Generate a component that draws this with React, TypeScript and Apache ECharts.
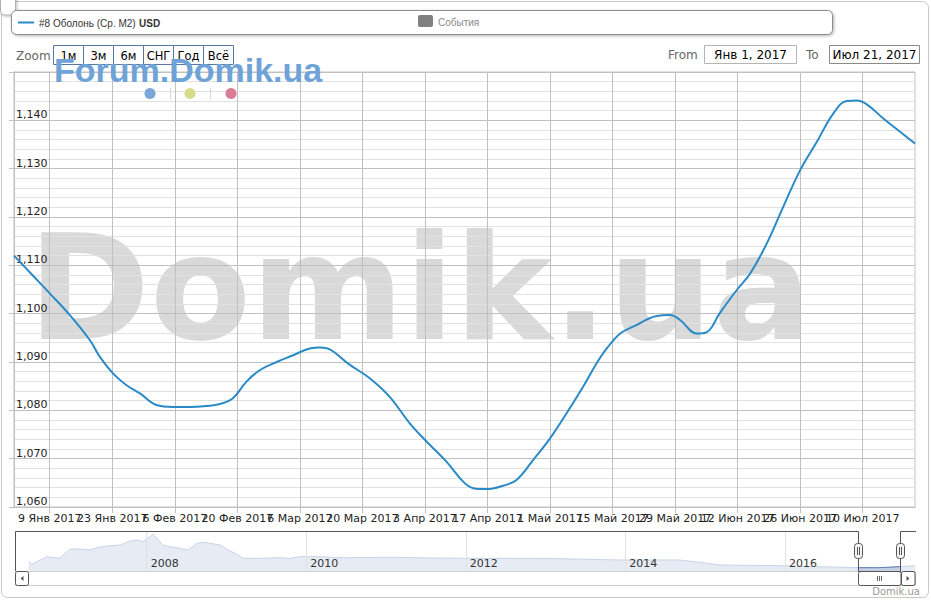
import React, { useEffect, useRef } from "react";
import * as echarts from "echarts";

const SERIES_NAME = "#8 Оболонь (Ср. М2)";
const CURRENCY = "USD";
const EVENTS_LABEL = "События";
const MONTHS = ["Янв", "Фев", "Мар", "Апр", "Май", "Июн", "Июл", "Авг", "Сен", "Окт", "Ноя", "Дек"];
const RANGE_BUTTONS = ["1м", "3м", "6м", "СНГ", "Год", "Всё"];
const FROM_DATE = "Янв 1, 2017";
const TO_DATE = "Июл 21, 2017";

// days counted from 1 Jan 2017
const priceDays = [0, 4, 8, 12.5, 17, 19.2, 22.2, 25.2, 28.2, 31.9, 35.6, 39.4, 43.1, 46.1, 49, 52, 55, 58.8, 62.5, 66.2, 68.5, 70.7, 75.2, 79.7, 84.1, 88.6, 92.4, 96.8, 100.6, 102.8, 105.8, 109.5, 112.5, 116.2, 120, 123.7, 127.4, 130.4, 132.7, 135.7, 138.6, 143.9, 146.8, 149.1, 152.8, 155.1, 158, 161.8, 164.8, 168.5, 172.2, 176, 179.7, 183.4, 186.4, 188.7, 190.9, 194.6, 198, 201.7];
const priceValues = [1112.0, 1108.1, 1104.2, 1099.7, 1094.5, 1091.1, 1087.6, 1085.2, 1083.5, 1081.1, 1080.7, 1080.7, 1080.9, 1081.3, 1082.5, 1085.9, 1088.3, 1090.0, 1091.4, 1092.8, 1093.0, 1092.6, 1089.4, 1086.6, 1082.8, 1077.3, 1073.5, 1069.4, 1065.2, 1063.9, 1063.7, 1064.4, 1065.6, 1069.7, 1074.2, 1079.4, 1084.9, 1089.7, 1092.8, 1095.9, 1097.3, 1099.5, 1099.7, 1098.7, 1095.9, 1096.2, 1100.1, 1104.9, 1108.3, 1114.5, 1122.1, 1129.7, 1135.5, 1141.4, 1144.0, 1144.1, 1143.3, 1140.4, 1137.9, 1135.2];
const X_MIN = 0;
const X_MAX = 201.7;
const xTickDays = [8, 22, 36, 50, 64, 78, 92, 106, 120, 134, 148, 162, 176, 190];
const Y_MIN = 1060;
const Y_MAX = 1150;
const Y_STEP = 10;

// navigator (whole history)
const navYears = [2006.52, 2006.56, 2006.75, 2006.91, 2007.04, 2007.13, 2007.29, 2007.38, 2007.54, 2007.67, 2007.79, 2007.88, 2007.95, 2008.04, 2008.08, 2008.13, 2008.2, 2008.29, 2008.42, 2008.51, 2008.58, 2008.63, 2008.71, 2008.79, 2008.92, 2009.02, 2009.11, 2009.21, 2009.42, 2009.67, 2009.8, 2009.92, 2010.17, 2010.42, 2011.05, 2011.55, 2011.99, 2012.43, 2013.06, 2013.93, 2014.68, 2014.93, 2015.19, 2015.91, 2016.44, 2016.91, 2017.19, 2017.44, 2017.63];
const navValues = [1348, 1216, 1520, 1456, 1828, 1828, 1788, 1880, 1960, 1988, 2148, 2188, 2120, 2320, 2428, 2256, 1988, 1920, 1856, 1788, 1920, 2056, 2096, 2056, 1988, 1788, 1656, 1456, 1456, 1480, 1456, 1520, 1520, 1480, 1496, 1468, 1456, 1456, 1448, 1388, 1388, 1296, 1188, 1160, 1120, 1080, 1080, 1120, 1160];
const navYearTicks = [2008, 2010, 2012, 2014, 2016];
const NAV_X_MIN = 2006.35;
const NAV_X_MAX = 2017.63;
const NAV_Y_MIN = 948;
const NAV_Y_MAX = 2548;
const SEL_START = 2016.9;
const SEL_END = 2017.45;

const LINE_COLOR = "#2a8ac8";
const FONT = '"DejaVu Sans", Verdana, sans-serif';
const LFONT = '"Liberation Sans", Arial, sans-serif';

function fmtDay(d: number): string {
  const dt = new Date(Date.UTC(2017, 0, 1 + Math.round(d)));
  return `${dt.getUTCDate()} ${MONTHS[dt.getUTCMonth()]} ${dt.getUTCFullYear()}`;
}
function fmtNum(v: number): string {
  const s = String(Math.round(v));
  return s.length > 3 ? s.slice(0, s.length - 3) + "," + s.slice(s.length - 3) : s;
}

export default function App() {
  const ref = useRef<HTMLDivElement>(null);
  useEffect(() => {
    if (!ref.current) return;
    const chart = echarts.init(ref.current, null, { renderer: "svg" });
    const priceData = priceDays.map((d, i) => [d, priceValues[i]]);
    const navData = navYears.map((y, i) => [y, navValues[i]]);
    const selData = navData.filter((p) => p[0] >= SEL_START && p[0] <= SEL_END);
    const evenTicks = xTickDays.filter((_, i) => i % 2 === 0);
    const oddTicks = xTickDays.filter((_, i) => i % 2 === 1);

    const dayLabel = {
      showMinLabel: true,
      showMaxLabel: true,
      hideOverlap: false,
      formatter: (v: number) => fmtDay(v),
      color: "#222",
      fontSize: 11,
      margin: 6,
      fontFamily: FONT,
    };

    const buttons: any[] = [];
    RANGE_BUTTONS.forEach((b, i) => {
      buttons.push({
        type: "rect",
        z: 10,
        shape: { x: 53.5 + 30 * i, y: 45.5, width: 30, height: 19 },
        style: { fill: "#fff", stroke: "#5877a3", lineWidth: 1 },
      });
      buttons.push({
        type: "text",
        z: 11,
        x: 68.5 + 30 * i,
        y: 55.5,
        style: { text: b, font: `11.5px ${FONT}`, fill: "#000", align: "center", verticalAlign: "middle" },
      });
    });

    const option: any = {
      animation: false,
      textStyle: { fontFamily: FONT },
      grid: [
        { left: 14, right: 16, top: 72, height: 435, show: true, borderColor: "#c0c0c0", borderWidth: 1, backgroundColor: "transparent" },
        { left: 15, right: 16, top: 531, height: 40, show: false },
      ],
      xAxis: [
        {
          type: "value",
          gridIndex: 0,
          position: "bottom",
          min: X_MIN,
          max: X_MAX,
          axisLine: { show: true, lineStyle: { color: "#c0c0c0" } },
          axisTick: { show: true, length: 6, customValues: xTickDays, lineStyle: { color: "#c0c0c0" } },
          axisLabel: { ...dayLabel, customValues: evenTicks },
          splitLine: { show: true, lineStyle: { color: "#c0c0c0" } },
        },
        {
          type: "value",
          gridIndex: 1,
          min: NAV_X_MIN,
          max: NAV_X_MAX,
          z: 5,
          axisLine: { show: false },
          axisTick: { show: false, customValues: navYearTicks },
          axisLabel: {
            customValues: navYearTicks,
            showMinLabel: true,
            showMaxLabel: true,
            hideOverlap: false,
            inside: true,
            formatter: (v: number) => String(v),
            align: "left",
            verticalAlign: "bottom",
            padding: [0, 0, 0, 4],
            margin: 2,
            color: "#333",
            fontSize: 11,
            fontFamily: FONT,
          },
          splitLine: { show: true, lineStyle: { color: "#e2e2e2" } },
        },
        {
          type: "value",
          gridIndex: 0,
          position: "bottom",
          offset: 0,
          min: X_MIN,
          max: X_MAX,
          axisLine: { show: false },
          axisTick: { show: false, customValues: oddTicks },
          axisLabel: { ...dayLabel, customValues: oddTicks },
          splitLine: { show: false },
        },
      ],
      yAxis: [
        {
          type: "value",
          gridIndex: 0,
          min: Y_MIN,
          max: Y_MAX,
          interval: Y_STEP,
          axisLine: { show: true, lineStyle: { color: "#c0c0c0" } },
          axisTick: { show: true, length: 5, lineStyle: { color: "#c0c0c0" } },
          axisLabel: {
            inside: true,
            margin: 2,
            verticalAlign: "bottom",
            color: "#222",
            fontSize: 11,
            fontFamily: FONT,
            formatter: (v: number) => (v >= Y_MAX ? "" : fmtNum(v)),
          },
          splitLine: { show: true, lineStyle: { color: "#c0c0c0" } },
          minorTick: { show: false, splitNumber: 5 },
          minorSplitLine: { show: true, lineStyle: { color: "#e2e2e2" } },
        },
        { type: "value", gridIndex: 1, min: NAV_Y_MIN, max: NAV_Y_MAX, show: false, splitLine: { show: false } },
      ],
      series: [
        {
          type: "line",
          name: SERIES_NAME,
          xAxisIndex: 0,
          yAxisIndex: 0,
          data: priceData,
          smooth: 0.4,
          symbol: "none",
          lineStyle: { color: LINE_COLOR, width: 2 },
          z: 5,
        },
        {
          type: "line",
          xAxisIndex: 1,
          yAxisIndex: 1,
          data: navData,
          symbol: "none",
          z: 1,
          lineStyle: { color: "#c8d4e7", width: 1 },
          areaStyle: { color: "#e6ebf4", origin: "start", opacity: 1 },
        },
        {
          type: "line",
          xAxisIndex: 1,
          yAxisIndex: 1,
          data: selData,
          symbol: "none",
          z: 1,
          lineStyle: { color: "#5a7db0", width: 1 },
          areaStyle: { color: "#c2d0e6", origin: "start", opacity: 1 },
        },
      ],
      graphic: [
        // big watermark
        {
          type: "text",
          z: -1,
          x: 28,
          y: 288,
          style: { text: "Domik.ua", font: `bold 147px ${FONT}`, fill: "#d9d9d9", verticalAlign: "middle" },
        },
        // outer border
        {
          type: "rect",
          z: 10,
          shape: { x: 1.5, y: 1.5, width: 927, height: 596, r: 6 },
          style: { fill: "none", stroke: "#c8c8c8", lineWidth: 1 },
        },
        // top-left small box
        {
          type: "rect",
          z: 10,
          shape: { x: 0.5, y: -4, width: 15, height: 19, r: 4 },
          style: { fill: "#fff", stroke: "#b0b0b0", lineWidth: 1, shadowBlur: 3, shadowOffsetX: 1, shadowOffsetY: 1, shadowColor: "rgba(0,0,0,0.25)" },
        },
        // legend box
        {
          type: "rect",
          z: 10,
          shape: { x: 11.5, y: 10.5, width: 821, height: 24, r: 5 },
          style: { fill: "#fff", stroke: "#8c8c8c", lineWidth: 1, shadowBlur: 3, shadowOffsetX: 1, shadowOffsetY: 1, shadowColor: "rgba(0,0,0,0.3)" },
        },
        {
          type: "line",
          z: 11,
          shape: { x1: 18, y1: 22.5, x2: 34, y2: 22.5 },
          style: { stroke: LINE_COLOR, lineWidth: 2 },
        },
        {
          type: "text",
          z: 11,
          x: 39,
          y: 23,
          style: {
            text: `{a|${SERIES_NAME}} {b|${CURRENCY}}`,
            verticalAlign: "middle",
            rich: {
              a: { fontFamily: LFONT, fontSize: 10, fill: "#333" },
              b: { fontFamily: LFONT, fontSize: 10, fontWeight: "bold", fill: "#333" },
            },
          },
        },
        {
          type: "rect",
          z: 11,
          shape: { x: 418, y: 15, width: 15, height: 12, r: 2 },
          style: { fill: "#808080" },
        },
        {
          type: "text",
          z: 11,
          x: 438,
          y: 22.5,
          style: { text: EVENTS_LABEL, font: `10px ${LFONT}`, fill: "#8a8a8a", verticalAlign: "middle" },
        },
        // range selector
        {
          type: "text",
          z: 11,
          x: 16,
          y: 56,
          style: { text: "Zoom", font: `12px ${FONT}`, fill: "#666", verticalAlign: "middle" },
        },
        ...buttons,
        {
          type: "text",
          z: 11,
          x: 668,
          y: 55,
          style: { text: "From", font: `12px ${FONT}`, fill: "#666", verticalAlign: "middle" },
        },
        {
          type: "rect",
          z: 10,
          shape: { x: 704.5, y: 45.5, width: 92, height: 18 },
          style: { fill: "#fff", stroke: "#b5b5b5", lineWidth: 1 },
        },
        {
          type: "text",
          z: 11,
          x: 750.5,
          y: 55,
          style: { text: FROM_DATE, font: `12px ${FONT}`, fill: "#000", align: "center", verticalAlign: "middle" },
        },
        {
          type: "text",
          z: 11,
          x: 806,
          y: 55,
          style: { text: "To", font: `12px ${FONT}`, fill: "#666", verticalAlign: "middle" },
        },
        {
          type: "rect",
          z: 10,
          shape: { x: 829.5, y: 45.5, width: 90, height: 18 },
          style: { fill: "#fff", stroke: "#8a8a8a", lineWidth: 1 },
        },
        {
          type: "text",
          z: 11,
          x: 874.5,
          y: 55,
          style: { text: TO_DATE, font: `12px ${FONT}`, fill: "#000", align: "center", verticalAlign: "middle" },
        },
        // Forum.Domik.ua logo
        {
          type: "text",
          z: 11,
          x: 54,
          y: 69.5,
          style: { text: "Forum.Domik.ua", font: `bold 34px ${LFONT}`, fill: "#6fa3d8", verticalAlign: "middle" },
        },
        { type: "circle", z: 11, shape: { cx: 150, cy: 93.5, r: 5.5 }, style: { fill: "#7aa6d8" } },
        { type: "line", z: 11, shape: { x1: 170.5, y1: 88, x2: 170.5, y2: 99 }, style: { stroke: "#d6d6d6", lineWidth: 1 } },
        { type: "circle", z: 11, shape: { cx: 190, cy: 93.5, r: 5.5 }, style: { fill: "#d7dc8a" } },
        { type: "line", z: 11, shape: { x1: 210.5, y1: 88, x2: 210.5, y2: 99 }, style: { stroke: "#d6d6d6", lineWidth: 1 } },
        { type: "circle", z: 11, shape: { cx: 231, cy: 93.5, r: 5.5 }, style: { fill: "#da7a93" } },
        // scrollbar
        {
          type: "rect",
          z: 10,
          shape: { x: 15.5, y: 571.5, width: 900, height: 14 },
          style: { fill: "#fff", stroke: "#cfcfcf", lineWidth: 1 },
        },
        {
          type: "rect",
          z: 11,
          shape: { x: 15.5, y: 571.5, width: 13, height: 14, r: 2 },
          style: { fill: "#fff", stroke: "#555", lineWidth: 1 },
        },
        { type: "polygon", z: 12, shape: { points: [[23.5, 576], [23.5, 581], [20.5, 578.5]] }, style: { fill: "#555" } },
        {
          type: "rect",
          z: 11,
          shape: { x: 901.5, y: 571.5, width: 13.5, height: 14, r: 2 },
          style: { fill: "#fff", stroke: "#555", lineWidth: 1 },
        },
        { type: "polygon", z: 12, shape: { points: [[906.5, 576], [906.5, 581], [909.5, 578.5]] }, style: { fill: "#555" } },
        {
          type: "rect",
          z: 11,
          shape: { x: 858.5, y: 571.5, width: 42.5, height: 14, r: 2 },
          style: { fill: "#fff", stroke: "#555", lineWidth: 1 },
        },
        { type: "line", z: 12, shape: { x1: 877.5, y1: 576, x2: 877.5, y2: 581 }, style: { stroke: "#666", lineWidth: 1 } },
        { type: "line", z: 12, shape: { x1: 879.5, y1: 576, x2: 879.5, y2: 581 }, style: { stroke: "#666", lineWidth: 1 } },
        { type: "line", z: 12, shape: { x1: 881.5, y1: 576, x2: 881.5, y2: 581 }, style: { stroke: "#666", lineWidth: 1 } },
        // navigator outline
        {
          type: "polyline",
          z: 12,
          shape: { points: [[15.5, 571], [15.5, 531.5], [858.5, 531.5], [858.5, 571.5], [900.5, 571.5], [900.5, 531.5], [916, 531.5]] },
          style: { stroke: "#555", lineWidth: 1, fill: "none" },
        },
        // handles
        {
          type: "rect",
          z: 13,
          shape: { x: 854.5, y: 543.5, width: 8, height: 15, r: 3 },
          style: { fill: "#f4f4f4", stroke: "#555", lineWidth: 1 },
        },
        { type: "line", z: 14, shape: { x1: 857.5, y1: 547, x2: 857.5, y2: 555 }, style: { stroke: "#555", lineWidth: 1 } },
        { type: "line", z: 14, shape: { x1: 859.5, y1: 547, x2: 859.5, y2: 555 }, style: { stroke: "#555", lineWidth: 1 } },
        {
          type: "rect",
          z: 13,
          shape: { x: 896.5, y: 543.5, width: 8, height: 15, r: 3 },
          style: { fill: "#f4f4f4", stroke: "#555", lineWidth: 1 },
        },
        { type: "line", z: 14, shape: { x1: 899.5, y1: 547, x2: 899.5, y2: 555 }, style: { stroke: "#555", lineWidth: 1 } },
        { type: "line", z: 14, shape: { x1: 901.5, y1: 547, x2: 901.5, y2: 555 }, style: { stroke: "#555", lineWidth: 1 } },
        // credit
        {
          type: "text",
          z: 11,
          x: 920,
          y: 591,
          style: { text: "Domik.ua", font: `10px ${FONT}`, fill: "#999", align: "right", verticalAlign: "middle" },
        },
      ],
    };
    chart.setOption(option);
    return () => chart.dispose();
  }, []);
  return <div ref={ref} style={{ position: "absolute", left: 0, top: 0, width: 931, height: 600, background: "#fff" }} />;
}
